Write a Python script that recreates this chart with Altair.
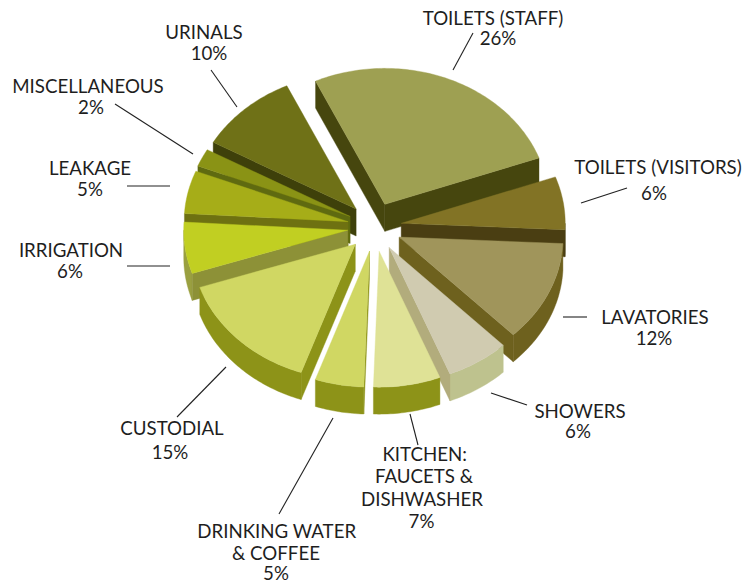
import math
import altair as alt

# Slices, clockwise from the first edge
names = ["TOILETS (STAFF)", "TOILETS (VISITORS)", "LAVATORIES", "SHOWERS", "KITCHEN", "DRINKING WATER",
         "CUSTODIAL", "IRRIGATION", "LEAKAGE", "MISCELLANEOUS", "URINALS"]
shares = [26.4, 6.3, 12.0, 6.2, 6.6, 4.8, 14.5, 6.1, 5.1, 2.1, 9.9]
tops = ["#9EA052", "#827325", "#A0955B", "#D0CBB0", "#DFE296", "#D0D763",
        "#D0D763", "#C1CF22", "#A6AD18", "#8A9315", "#6F7117"]
cuts = ["#46460E", "#4A3E12", "#6E611E", "#B2AC7C", "#8D9318", "#8D9318",
        "#8D9318", "#8D9137", "#6E7111", "#5F6A10", "#3E400A"]
rims = ["#46460E", "#4A3E12", "#6E611E", "#BEC28E", "#8D9318", "#8D9318",
        "#8D9318", "#9AA040", "#6E7111", "#5F6A10", "#3E400A"]
paint_order = [0, 10, 9, 8, 7, 6, 1, 2, 3, 5, 4]

# Text lines: text, x, y
label_text = ["TOILETS (STAFF)", "26%", "TOILETS (VISITORS)", "6%", "LAVATORIES", "12%", "SHOWERS", "6%",
              "KITCHEN:", "FAUCETS &", "DISHWASHER", "7%", "DRINKING WATER", "& COFFEE", "5%",
              "CUSTODIAL", "15%", "IRRIGATION", "6%", "LEAKAGE", "5%", "MISCELLANEOUS", "2%", "URINALS", "10%"]
label_x = [493, 498, 658, 654, 655, 654, 580, 578, 424.7, 424, 422, 421.5, 276.7, 276, 276,
           172, 170, 71, 70, 90, 90, 88, 91, 204, 209]
label_y = [19, 39, 168, 194, 318, 339, 412, 432, 455, 477, 500, 522, 532, 554, 574,
           429, 453, 251, 272, 169, 190, 87, 108, 33, 54]

leaders = [[(453, 70), (473, 33)], [(581, 203), (627, 188)], [(563, 317), (587, 317)], [(491, 393), (527, 405)],
           [(418, 445), (410, 414)], [(279, 514), (333, 418)], [(177, 417), (226, 367)], [(127, 266), (170, 266)],
           [(127, 186), (170, 186)], [(115, 104), (193, 154)], [(211, 70), (237, 107)]]

CX, CY, RX, RY, EXPLODE_X, EXPLODE_Y, DEPTH, START = 374.5, 227.0, 164.0, 136.0, 27.0, 24.5, 27.0, -25.0


def pt(ax, ay, deg):
    t = math.radians(deg)
    return [ax + RX * math.sin(t), ay - RY * math.cos(t)]


def poly(points, fill):
    return {"type": "Feature", "properties": {"fill": fill},
            "geometry": {"type": "Polygon", "coordinates": [points + [points[0]]]}}


def arc(ax, ay, a1, a2):
    n = max(2, int(abs(a2 - a1)) + 2)
    return [pt(ax, ay, a1 + (a2 - a1) * i / (n - 1)) for i in range(n)]


total = sum(shares)
a = START
slices = []
for s in shares:
    b = a + s * 360.0 / total
    slices.append((a, b))
    a = b

features = []
for i in paint_order:
    a1, a2 = slices[i]
    mid = math.radians((a1 + a2) / 2)
    ax = CX + EXPLODE_X * math.sin(mid)
    ay = CY - EXPLODE_Y * math.cos(mid)
    lo, hi = max(a1, 90), min(a2, 270)
    if hi > lo:
        top = arc(ax, ay, lo, hi)
        bottom = [[p[0], p[1] + DEPTH] for p in reversed(top)]
        features.append(poly(top + bottom, rims[i]))
    for deg, visible in ((a1, 180 < a1 % 360 < 360), (a2, 0 < a2 % 360 < 180)):
        if visible:
            r = pt(ax, ay, deg)
            features.append(poly([[ax, ay], r, [r[0], r[1] + DEPTH], [ax, ay + DEPTH]], cuts[i]))
    features.append(poly([[ax, ay]] + arc(ax, ay, a1, a2), tops[i]))

line_features = [{"type": "Feature", "properties": {},
                  "geometry": {"type": "LineString", "coordinates": [list(p) for p in seg]}} for seg in leaders]

slices_layer = alt.Chart(alt.Data(values=features)).mark_geoshape(strokeWidth=0.4).encode(
    fill=alt.Fill("properties.fill:N", scale=None),
    stroke=alt.Stroke("properties.fill:N", scale=None),
).project(type="identity", scale=1, translate=[-8, -8])

lines_layer = alt.Chart(alt.Data(values=line_features)).mark_geoshape(
    filled=False, stroke="#222222", strokeWidth=1.1
).project(type="identity", scale=1, translate=[-8, -8])

text_rows = [{"t": t, "lon": x, "lat": y} for t, x, y in zip(label_text, label_x, label_y)]
text_layer = alt.Chart(alt.Data(values=text_rows)).mark_text(
    font="Lato", fontSize=18.7, color="#1E1E1E", align="center", baseline="middle"
).encode(
    longitude="lon:Q", latitude="lat:Q", text="t:N"
).project(type="identity", scale=1, translate=[-8, -8])

chart = alt.layer(slices_layer, lines_layer, text_layer).properties(
    width=736, height=576, padding=0, background="white"
).configure_view(stroke=None)

chart.save("out.html", embed_options={"renderer": "svg", "actions": False})
